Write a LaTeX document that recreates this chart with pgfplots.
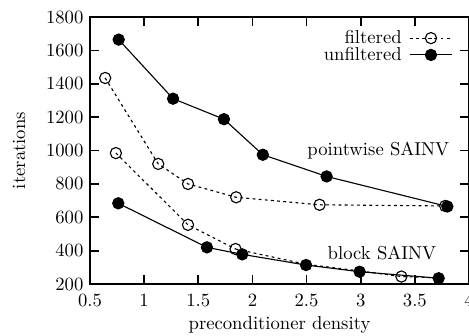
\documentclass[border=0pt]{standalone}
\usepackage{pgfplots}
\pgfplotsset{compat=1.18}
\begin{document}
\begin{tikzpicture}
\begin{axis}[
  scale only axis,
  width=203pt, height=143pt,
  xmin=0.5, xmax=4, ymin=200, ymax=1800,
  xtick={0.5,1,1.5,2,2.5,3,3.5,4},
  ytick={200,400,600,800,1000,1200,1400,1600,1800},
  tick align=inside,
  major tick length=5pt,
  axis line style={line width=0.9pt},
  every tick/.style={line width=0.9pt, black},
  /pgf/number format/1000 sep={},
  xticklabel style={yshift=-2pt},
  xlabel={preconditioner density},
  ylabel={iterations},
  every axis y label/.style={at={(axis description cs:-0.187,0.5)}, rotate=90, anchor=center},
  every axis x label/.style={at={(axis description cs:0.5,-0.152)}, anchor=center},
  legend style={draw=none, fill=none, at={(0.973,0.968)}, anchor=north east,
    nodes={inner sep=1pt, text height=6.5pt, text depth=0.5pt}, row sep=0pt, column sep=3pt},
  legend cell align=right,
  legend plot pos=right,
  legend image code/.code={\draw[mark repeat=2,mark phase=2] plot coordinates {(0cm,0cm) (0.4cm,0cm) (0.8cm,0cm)};},
]
% pointwise filtered
\addplot[black, line width=0.6pt, dash pattern=on 1.5pt off 1.8pt, mark=o, mark size=3pt, mark options={solid}]
  coordinates {(0.64,1435) (1.13,920) (1.405,800) (1.85,720) (2.62,675) (3.78,668)};
\addlegendentry{filtered}
% pointwise unfiltered
\addplot[black, line width=0.6pt, mark=*, mark size=3pt]
  coordinates {(0.765,1665) (1.267,1311) (1.737,1188) (2.096,975) (2.685,845) (3.80,665)};
\addlegendentry{unfiltered}
% block filtered
\addplot[black, line width=0.6pt, dash pattern=on 1.5pt off 1.8pt, mark=o, mark size=3pt, mark options={solid}]
  coordinates {(0.739,985) (1.405,555) (1.844,410)};
\addplot[black, line width=0.6pt, dash pattern=on 1.5pt off 1.8pt]
  coordinates {(1.844,410) (2.5,318) (3.0,278)};
\addplot[black, line width=0.6pt, dash pattern=on 1.5pt off 1.8pt, mark=o, mark size=3pt, mark options={solid}]
  coordinates {(3.376,245)};
\addplot[black, line width=0.6pt, dash pattern=on 1.5pt off 1.8pt]
  coordinates {(3.0,278) (3.376,245) (3.72,237)};
% block unfiltered
\addplot[black, line width=0.6pt, mark=*, mark size=3pt]
  coordinates {(0.761,684) (1.58,420) (1.906,378) (2.495,314) (2.99,274) (3.72,235)};
\node[anchor=east, inner sep=0pt] at (axis cs:3.82,1000) {pointwise SAINV};
\node[anchor=east, inner sep=0pt] at (axis cs:3.70,385) {block SAINV};
\coordinate (bl) at (rel axis cs:-0.2375,-0.191);
\coordinate (tr) at (rel axis cs:1,1.064);
\end{axis}
\pgfresetboundingbox
\path[use as bounding box] (bl) rectangle (tr);
\end{tikzpicture}
\end{document}
